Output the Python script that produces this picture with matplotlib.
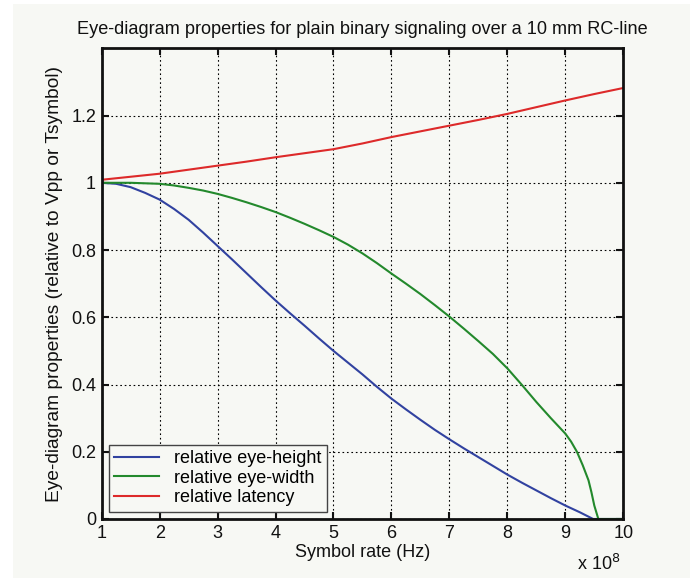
import matplotlib
matplotlib.use('Agg')
import matplotlib.pyplot as plt
from matplotlib.patches import Rectangle
from matplotlib.ticker import FormatStrFormatter

plt.rcParams['font.family'] = ['Liberation Sans', 'DejaVu Sans']

# symbol rate in units of 1e8 Hz
rate_height = [1.0, 1.25, 1.5, 1.75, 2.0, 2.25, 2.5, 2.75, 3.0, 3.25, 3.5, 3.75,
               4.0, 4.25, 4.5, 4.75, 5.0, 5.25, 5.5, 5.75, 6.0, 6.25, 6.5, 6.75,
               7.0, 7.25, 7.5, 7.75, 8.0, 8.25, 8.5, 8.75, 9.0, 9.25, 9.48, 10.0]
eye_height = [1.0, 0.997, 0.987, 0.97, 0.95, 0.922, 0.89, 0.852, 0.812, 0.772,
              0.731, 0.69, 0.65, 0.612, 0.575, 0.537, 0.50, 0.465, 0.43, 0.393,
              0.358, 0.326, 0.295, 0.265, 0.237, 0.21, 0.184, 0.158, 0.132, 0.108,
              0.085, 0.062, 0.04, 0.02, 0.0, 0.0]

rate_width = [1.0, 1.5, 2.0, 2.25, 2.5, 2.75, 3.0, 3.25, 3.5, 3.75, 4.0, 4.25,
              4.5, 4.75, 5.0, 5.25, 5.5, 5.75, 6.0, 6.25, 6.5, 6.75, 7.0, 7.25,
              7.5, 7.75, 8.0, 8.25, 8.5, 8.75, 9.0, 9.1, 9.2, 9.3, 9.4, 9.45,
              9.5, 9.57, 10.0]
eye_width = [1.0, 1.0, 0.997, 0.992, 0.985, 0.977, 0.967, 0.955, 0.942, 0.928,
             0.913, 0.896, 0.878, 0.859, 0.839, 0.816, 0.79, 0.761, 0.73, 0.70,
             0.669, 0.636, 0.602, 0.566, 0.529, 0.491, 0.448, 0.399, 0.348, 0.30,
             0.254, 0.23, 0.20, 0.16, 0.115, 0.08, 0.04, 0.0, 0.0]

rate_latency = [1.0, 1.5, 2.0, 2.5, 3.0, 3.5, 4.0, 4.5, 5.0, 5.5, 6.0, 6.5,
                7.0, 7.5, 8.0, 8.5, 9.0, 9.5, 10.0]
latency = [1.009, 1.018, 1.027, 1.039, 1.051, 1.063, 1.076, 1.088, 1.10, 1.117,
           1.136, 1.153, 1.170, 1.187, 1.205, 1.225, 1.245, 1.264, 1.282]

BG = '#f7f8f4'
INK = '#111111'

fig = plt.figure(figsize=(6.95, 5.78), dpi=100, facecolor='white')
# light panel behind the plot
fig.patches.append(Rectangle((13 / 695, 0), 677 / 695, 574 / 578,
                             transform=fig.transFigure, facecolor=BG,
                             edgecolor='none', zorder=-10))

ax = fig.add_axes([0.1463, 0.1021, 0.7505, 0.8143])
ax.set_facecolor(BG)

ax.plot(rate_height, eye_height, color='#3142a0', lw=1.5, label='relative eye-height')
ax.plot(rate_width, eye_width, color='#23892c', lw=1.5, label='relative eye-width')
ax.plot(rate_latency, latency, color='#dd2a2a', lw=1.5, label='relative latency')

ax.set_xlim(1, 10)
ax.set_ylim(0, 1.4)
ax.set_xticks(range(1, 11))
ax.set_yticks([0, 0.2, 0.4, 0.6, 0.8, 1.0, 1.2])
ax.yaxis.set_major_formatter(FormatStrFormatter('%g'))

ax.grid(True, color='black', linestyle=(0, (1.5, 2.5)), linewidth=0.8)
ax.tick_params(direction='in', length=5, width=1.5, top=True, right=True,
               labelsize=13, pad=4, colors=INK)
for sp in ax.spines.values():
    sp.set_linewidth(2)
    sp.set_color(INK)

ax.set_title('Eye-diagram properties for plain binary signaling over a 10 mm RC-line',
             fontsize=13.1, pad=10, color=INK)
ax.set_xlabel('Symbol rate (Hz)', fontsize=13, labelpad=2, color=INK)
ax.set_ylabel('Eye-diagram properties (relative to Vpp or Tsymbol)', fontsize=13.8,
              labelpad=6, color=INK)
ax.text(0.952, -0.095, r'x 10$^{8}$', transform=ax.transAxes, fontsize=13,
        ha='center', va='center', color=INK)

leg = ax.legend(loc='lower left', fontsize=13, fancybox=False, framealpha=1,
                edgecolor='#444444', facecolor=BG, handlelength=2.5,
                borderaxespad=0.4, labelspacing=0.15, borderpad=0.3)
leg.get_frame().set_linewidth(1.0)

fig.savefig('out.png', dpi=100, facecolor='white')
